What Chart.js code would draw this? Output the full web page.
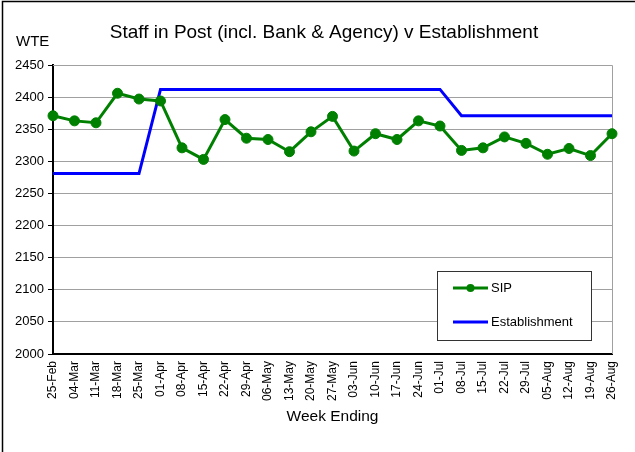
<!DOCTYPE html>
<html>
<head>
<meta charset="utf-8">
<script src="https://cdn.jsdelivr.net/npm/chart.js@4.4.1/dist/chart.umd.min.js"></script>
<style>
  html, body { margin: 0; padding: 0; background: #fff; }
  #wrap { width: 635px; height: 452px; position: relative; }
</style>
</head>
<body>
<div id="wrap"><canvas id="myChart" width="635" height="452"></canvas></div>
<script>
// Week ending dates
var weeks = ["25-Feb", "04-Mar", "11-Mar", "18-Mar", "25-Mar", "01-Apr", "08-Apr",
  "15-Apr", "22-Apr", "29-Apr", "06-May", "13-May", "20-May", "27-May", "03-Jun",
  "10-Jun", "17-Jun", "24-Jun", "01-Jul", "08-Jul", "15-Jul", "22-Jul", "29-Jul",
  "05-Aug", "12-Aug", "19-Aug", "26-Aug"];

// Staff in post (WTE)
var sipData = [2371, 2363, 2360, 2406, 2397, 2394, 2321, 2303, 2365, 2336, 2334,
  2315, 2346, 2370, 2316, 2343, 2334, 2363, 2355, 2317, 2321, 2338, 2328, 2311,
  2320, 2309, 2343];

// Establishment (WTE)
var establishmentData = [2281, 2281, 2281, 2281, 2281, 2412, 2412, 2412, 2412,
  2412, 2412, 2412, 2412, 2412, 2412, 2412, 2412, 2412, 2412, 2371, 2371, 2371,
  2371, 2371, 2371, 2371, 2371];

// Y axis range
var yMin = 2000;
var yMax = 2450;
var yStep = 50;

var chartTitle = "Staff in Post (incl. Bank & Agency) v Establishment";
var yTitle = "WTE";
var xTitle = "Week Ending";

var FONT = "'Liberation Sans', Arial, sans-serif";

// Draws frame, titles, plot outline and the boxed legend
const decorations = {
  id: "decorations",
  beforeDatasetsDraw(chart) {
    const ctx = chart.ctx;
    const a = chart.chartArea;
    ctx.save();
    // plot area outline (top/right in grey)
    ctx.strokeStyle = "#a0a0a0";
    ctx.lineWidth = 1;
    ctx.beginPath();
    ctx.moveTo(a.left, a.top + 0.5);
    ctx.lineTo(a.right + 0.5, a.top + 0.5);
    ctx.lineTo(a.right + 0.5, a.bottom);
    ctx.stroke();
    ctx.restore();
  },
  afterDraw(chart) {
    const ctx = chart.ctx;
    ctx.save();
    // outer frame (left and top only visible)
    ctx.strokeStyle = "#000";
    ctx.lineWidth = 1.5;
    ctx.beginPath();
    ctx.moveTo(2.5, chart.height);
    ctx.lineTo(2.5, 1.5);
    ctx.lineTo(chart.width, 1.5);
    ctx.stroke();

    // chart title
    ctx.fillStyle = "#000";
    ctx.textBaseline = "middle";
    ctx.textAlign = "center";
    ctx.font = "19px " + FONT;
    ctx.fillText(chartTitle, 324, 33);

    // y axis title
    ctx.textAlign = "left";
    ctx.font = "15px " + FONT;
    ctx.fillText(yTitle, 16, 42);

    // legend box
    const lx = 437, ly = 271, lw = 154, lh = 69;
    ctx.fillStyle = "#fff";
    ctx.fillRect(lx, ly, lw, lh);
    ctx.strokeStyle = "#333";
    ctx.lineWidth = 1;
    ctx.strokeRect(lx + 0.5, ly + 0.5, lw, lh);
    const rows = [288, 322];
    chart.data.datasets.forEach(function (ds, i) {
      const y = rows[i];
      ctx.strokeStyle = ds.borderColor;
      ctx.lineWidth = 3;
      ctx.beginPath();
      ctx.moveTo(453, y);
      ctx.lineTo(488, y);
      ctx.stroke();
      if (ds.pointRadius > 0) {
        ctx.fillStyle = ds.pointBackgroundColor;
        ctx.beginPath();
        ctx.arc(470.5, y, 4, 0, Math.PI * 2);
        ctx.fill();
      }
      ctx.fillStyle = "#000";
      ctx.font = "13px " + FONT;
      ctx.textAlign = "left";
      ctx.fillText(ds.label, 491, y + 0.5);
    });
    ctx.restore();
  }
};

const data = {
  labels: weeks,
  datasets: [
    {
      label: "SIP",
      data: sipData,
      borderColor: "#008000",
      backgroundColor: "#008000",
      pointBackgroundColor: "#008000",
      pointBorderColor: "#008000",
      borderWidth: 3,
      pointRadius: 5,
      pointBorderWidth: 1,
      tension: 0,
      fill: false,
      clip: false
    },
    {
      label: "Establishment",
      data: establishmentData,
      borderColor: "#0000ff",
      backgroundColor: "#0000ff",
      borderWidth: 3,
      pointRadius: 0,
      tension: 0,
      fill: false,
      clip: false
    }
  ]
};

const config = {
  type: "line",
  data: data,
  options: {
    responsive: false,
    animation: false,
    events: [],
    layout: { padding: { left: 0, top: 65, right: 23, bottom: 0 } },
    plugins: {
      legend: { display: false },
      title: { display: false },
      tooltip: { enabled: false }
    },
    scales: {
      x: {
        offset: false,
        grid: { display: false, drawTicks: false },
        border: { display: true, color: "#000", width: 2 },
        ticks: {
          autoSkip: false,
          minRotation: 90,
          maxRotation: 90,
          padding: 7,
          color: "#000",
          font: { family: FONT, size: 12 }
        },
        title: {
          display: true,
          text: xTitle,
          color: "#000",
          font: { family: FONT, size: 15.5 },
          padding: { top: 0, bottom: 26 }
        },
        afterFit: function (scale) { scale.height = 98; }
      },
      y: {
        min: yMin,
        max: yMax,
        grid: { color: "#a0a0a0", lineWidth: 1, tickLength: 5, tickColor: "#000" },
        border: { display: true, color: "#000", width: 2 },
        ticks: {
          stepSize: yStep,
          padding: 4,
          color: "#000",
          font: { family: FONT, size: 13 },
          callback: function (value) { return String(value); }
        },
        afterFit: function (scale) { scale.width = 53; }
      }
    }
  },
  plugins: [decorations]
};

const myChart = new Chart(document.getElementById("myChart").getContext("2d"), config);
</script>
</body>
</html>
